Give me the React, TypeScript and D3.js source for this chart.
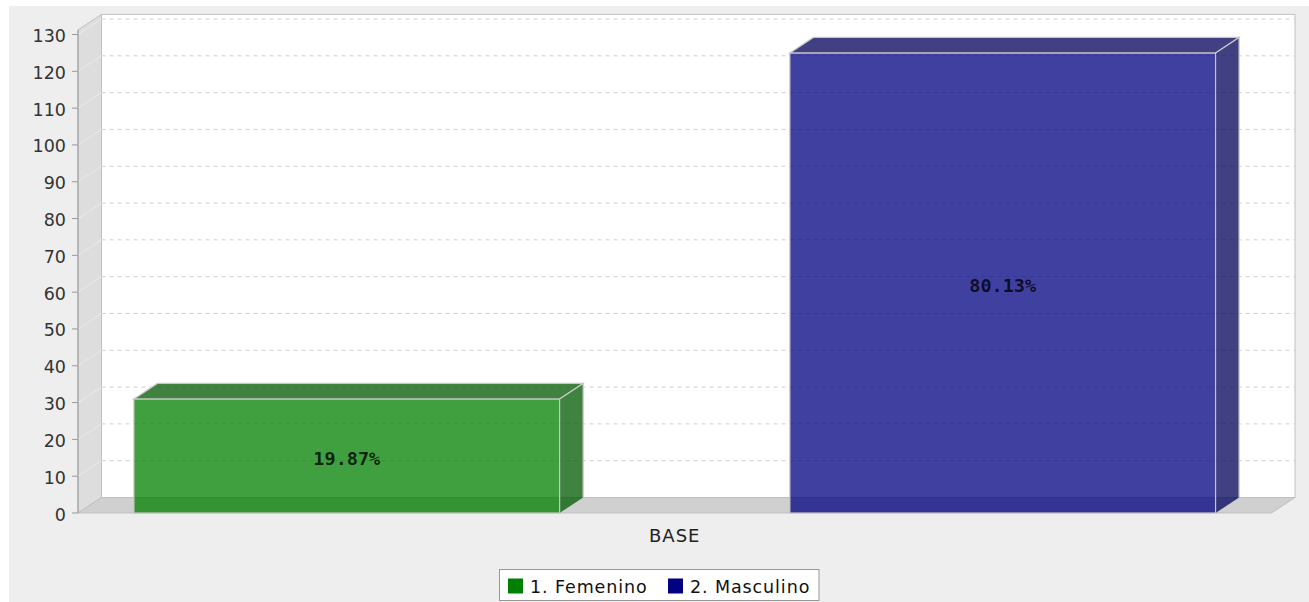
import React from "react";
import * as d3 from "d3";

const categories = ["BASE"];
const seriesNames = ["1. Femenino", "2. Masculino"];
const seriesValues = [31, 125];
const valueLabels = ["19.87%", "80.13%"];
const yTicks = [0, 10, 20, 30, 40, 50, 60, 70, 80, 90, 100, 110, 120, 130];
const seriesColors = ["#008000", "#000080"];
const seriesDark = ["#005900", "#000059"];

const W = 1309;
const H = 602;
const DX = 23.5;
const DY = 15.5;
const X0 = 78;
const X1 = 1271.5;
const Y0 = 513;

export default function App() {
  const y = d3.scaleLinear().domain([0, 131.25]).range([Y0, Y0 - 131.25 * 3.6808]);
  const yTop = y(131.25);
  const xCat = d3.scaleBand<string>().domain(categories).range([X0, X1]).paddingOuter(0.0517).paddingInner(0);
  const xSer = d3.scaleBand<string>().domain(seriesNames).range([0, xCat.bandwidth()]).paddingInner(0.351).paddingOuter(0);

  const pts = (arr: number[][]) => arr.map((p) => p.join(",")).join(" ");
  const font = "'DejaVu Sans', sans-serif";

  const legendX = 499.5;
  const legendY = 569.5;
  const legendW = 319.5;
  const legendH = 31;

  return (
    <svg width={W} height={H} style={{ position: "absolute", left: 0, top: 0 }}>
      <rect x={0} y={0} width={W} height={H} fill="#ffffff" />
      <rect x={9} y={6} width={W - 9} height={H - 6} fill="#eeeeee" />
      {/* back wall */}
      <rect x={X0 + DX} y={yTop - DY} width={X1 - X0} height={Y0 - yTop} fill="#ffffff" stroke="#c0c0c0" strokeWidth={1} />
      {/* left wall */}
      <polygon
        points={pts([[X0, yTop], [X0 + DX, yTop - DY], [X0 + DX, Y0 - DY], [X0, Y0]])}
        fill="#dddddd"
        stroke="#c0c0c0"
        strokeWidth={1}
      />
      {/* floor */}
      <polygon
        points={pts([[X0, Y0], [X0 + DX, Y0 - DY], [X1 + DX, Y0 - DY], [X1, Y0]])}
        fill="#d0d0d0"
        stroke="#c0c0c0"
        strokeWidth={1}
      />
      {/* gridlines */}
      {yTicks.filter((t) => t > 0).map((t) => (
        <g key={"g" + t}>
          <line x1={X0 + DX} x2={X1 + DX} y1={y(t) - DY} y2={y(t) - DY} stroke="#d0d0d0" strokeWidth={1} strokeDasharray="4,4" />
          <line x1={X0} x2={X0 + DX} y1={y(t)} y2={y(t) - DY} stroke="#eaeaea" strokeWidth={1} />
        </g>
      ))}
      {/* bars */}
      {categories.map((c) =>
        seriesNames.map((s, i) => {
          const bx = (xCat(c) || 0) + (xSer(s) || 0);
          const bw = xSer.bandwidth();
          const by = y(seriesValues[i]);
          const cx = bx + bw / 2;
          const cy = (by + Y0) / 2;
          return (
            <g key={c + s}>
              <rect x={bx} y={by} width={bw} height={Y0 - by} fill={seriesColors[i]} fillOpacity={0.75} stroke="#c8c8c8" strokeWidth={1.2} />
              <polygon
                points={pts([[bx, by], [bx + DX, by - DY], [bx + bw + DX, by - DY], [bx + bw, by]])}
                fill={seriesDark[i]}
                fillOpacity={0.75}
                stroke="#c8c8c8"
                strokeWidth={1.2}
              />
              <polygon
                points={pts([[bx + bw, by], [bx + bw + DX, by - DY], [bx + bw + DX, Y0 - DY], [bx + bw, Y0]])}
                fill={seriesDark[i]}
                fillOpacity={0.75}
              />
              <line x1={bx + bw} y1={by} x2={bx + bw} y2={Y0} stroke="#c8c8c8" strokeWidth={1.2} />
              <polyline
                points={pts([[bx + bw, by], [bx + bw + DX, by - DY], [bx + bw + DX, Y0 - DY]])}
                fill="none"
                stroke="#c8c8c8"
                strokeWidth={1.2}
              />
              <text
                x={cx}
                y={cy + 9.5}
                textAnchor="middle"
                fontFamily="'DejaVu Sans Mono', monospace"
                fontWeight="bold"
                fontSize={18.5}
                fill="#000000"
                fillOpacity={0.78}
              >
                {valueLabels[i]}
              </text>
            </g>
          );
        })
      )}
      {/* y axis */}
      <line x1={X0} x2={X0} y1={yTop} y2={Y0} stroke="#999999" strokeWidth={1} />
      {yTicks.map((t) => (
        <g key={"t" + t}>
          <line x1={X0 - 6} x2={X0} y1={y(t)} y2={y(t)} stroke="#999999" strokeWidth={1} />
          <text x={X0 - 12} y={y(t) + 7.5} textAnchor="end" fontFamily={font} fontSize={17.5} fill="#333333">
            {t}
          </text>
        </g>
      ))}
      {/* category label */}
      {categories.map((c) => (
        <text key={c} x={(xCat(c) || 0) + xCat.bandwidth() / 2} y={541.5} textAnchor="middle" fontFamily={font} fontSize={18} fill="#222222" letterSpacing={1}>
          {c}
        </text>
      ))}
      {/* legend */}
      <rect x={legendX} y={legendY} width={legendW} height={legendH} fill="#ffffff" stroke="#999999" strokeWidth={1} />
      {seriesNames.map((s, i) => {
        const lx = i === 0 ? 508 : 668;
        return (
          <g key={"l" + s}>
            <rect x={lx} y={578.5} width={15} height={15} fill={seriesColors[i]} />
            <text x={lx + 22} y={593} fontFamily={font} fontSize={17.5} fill="#111111" letterSpacing={0.9}>
              {s}
            </text>
          </g>
        );
      })}
    </svg>
  );
}
